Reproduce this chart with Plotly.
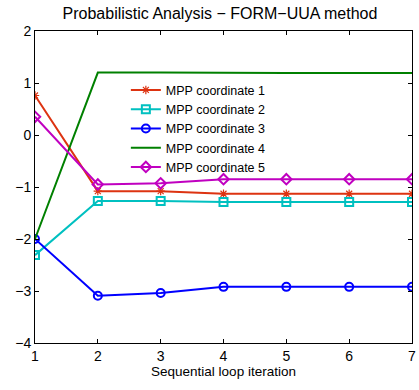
import plotly.graph_objects as go

iterations = [1, 2, 3, 4, 5, 6, 7]
coord1 = [0.76, -1.08, -1.08, -1.13, -1.13, -1.13, -1.13]
coord2 = [-2.31, -1.27, -1.27, -1.29, -1.29, -1.29, -1.29]
coord3 = [-2.0, -3.09, -3.04, -2.92, -2.92, -2.92, -2.92]
coord4 = [-2.0, 1.2, 1.2, 1.19, 1.19, 1.19, 1.19]
coord5 = [0.35, -0.95, -0.93, -0.85, -0.85, -0.85, -0.85]
names = ["MPP coordinate 1", "MPP coordinate 2", "MPP coordinate 3",
         "MPP coordinate 4", "MPP coordinate 5"]
x_ticks = [1, 2, 3, 4, 5, 6, 7]
y_ticks = [-4, -3, -2, -1, 0, 1, 2]

series = [coord1, coord2, coord3, coord4, coord5]
colors = ["#dd3311", "#00c0c0", "#0000ff", "#008000", "#c000c0"]
symbols = ["asterisk-open", "square-open", "circle-open", None, "diamond-open"]
sizes = [7, 8, 8, 0, 8]
mlw = [1.2, 2, 2, 0, 2]

fig = go.Figure()
for vals, name, col, sym, sz, lw in zip(series, names, colors, symbols, sizes, mlw):
    if sym is None:
        fig.add_trace(go.Scatter(x=iterations, y=vals, name=name, mode="lines",
                                 line=dict(color=col, width=2)))
    else:
        fig.add_trace(go.Scatter(x=iterations, y=vals, name=name, mode="lines+markers",
                                 line=dict(color=col, width=2),
                                 marker=dict(symbol=sym, size=sz, color=col,
                                             line=dict(color=col, width=lw))))

axis_common = dict(showgrid=False, zeroline=False, showline=True, linecolor="black",
                   linewidth=1, mirror="ticks", ticks="inside", ticklen=4,
                   tickcolor="black", tickfont=dict(size=14, color="black"),
                   automargin=False)

fig.update_layout(
    width=419, height=390,
    margin=dict(l=35, r=7, t=31, b=47),
    paper_bgcolor="white", plot_bgcolor="white",
    font=dict(family="Liberation Sans, Arial, sans-serif", color="black"),
    title=dict(text="Probabilistic Analysis − FORM−UUA method", x=0.525, xanchor="center",
               y=1 - 13 / 390, yref="container", yanchor="middle", font=dict(size=16)),
    xaxis=dict(range=[1, 7], tickvals=x_ticks,
               title=dict(text="Sequential loop iteration", font=dict(size=13.5), standoff=2),
               **axis_common),
    yaxis=dict(range=[-4, 2], tickvals=y_ticks, ticklabelstandoff=0, **axis_common),
    legend=dict(x=0.241, y=0.858, xanchor="left", yanchor="top",
                bgcolor="rgba(0,0,0,0)", borderwidth=0,
                font=dict(size=12.5), tracegroupgap=0),
    showlegend=True,
)

fig.write_html("out.html", config={"displayModeBar": False},
               post_script="document.body.style.margin='0px';")
